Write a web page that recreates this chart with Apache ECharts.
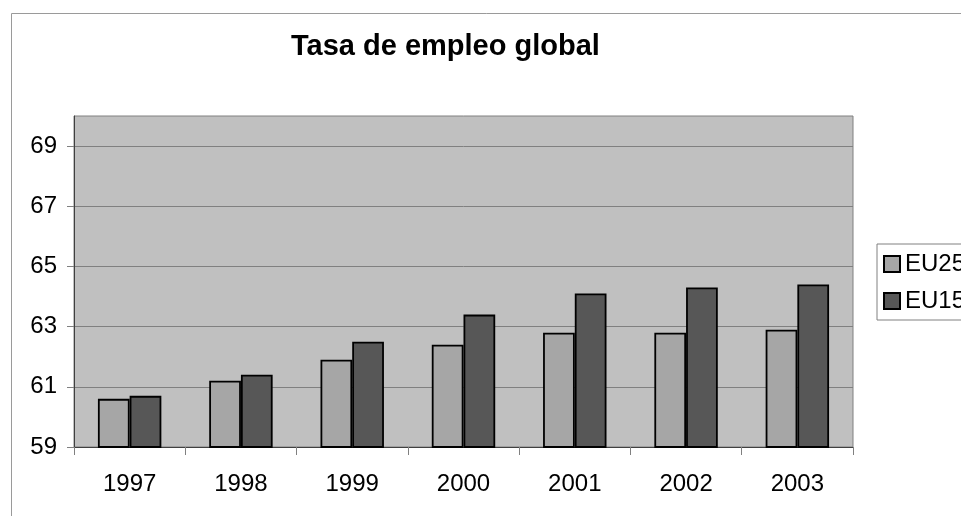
<!DOCTYPE html>
<html>
<head>
<meta charset="utf-8">
<script src="https://cdn.jsdelivr.net/npm/echarts@6/dist/echarts.min.js"></script>
<style>
html,body{margin:0;padding:0;background:#fff;}
#c{width:961px;height:516px;}
</style>
</head>
<body>
<div id="c"></div>
<script>
const titleText = 'Tasa de empleo global';
const categories = ['1997', '1998', '1999', '2000', '2001', '2002', '2003'];
const seriesNames = ['EU25', 'EU15'];
const eu25 = [60.6, 61.2, 61.9, 62.4, 62.8, 62.8, 62.9];
const eu15 = [60.7, 61.4, 62.5, 63.4, 64.1, 64.3, 64.4];
const yTicks = [59, 61, 63, 65, 67, 69];
const yMin = 59;
const yMax = 70;

const FONT = 'Liberation Sans, Arial, sans-serif';
const chart = echarts.init(document.getElementById('c'), null, {renderer: 'canvas'});
chart.setOption({
  backgroundColor: '#ffffff',
  animation: false,
  graphic: [{
    type: 'rect', left: 9, top: 11, z: -10,
    shape: {width: 1000, height: 600},
    style: {fill: 'none', stroke: '#9a9a9a', lineWidth: 1}
  }],
  title: {
    text: titleText, left: 291, top: 32, padding: 0,
    textStyle: {fontFamily: FONT, fontSize: 29, fontWeight: 'bold', color: '#000'}
  },
  legend: {
    orient: 'vertical', left: 877, top: 244,
    padding: [8, 6, 7, 6], itemGap: 13,
    itemWidth: 16, itemHeight: 16, icon: 'rect',
    borderColor: '#808080', borderWidth: 1, backgroundColor: '#fff',
    textStyle: {fontFamily: FONT, fontSize: 24, color: '#000'},
    data: seriesNames
  },
  grid: {
    left: 74, top: 116, right: 108, bottom: 69,
    show: true, backgroundColor: '#c0c0c0', borderColor: '#808080', borderWidth: 1
  },
  xAxis: {
    type: 'category', data: categories,
    axisLine: {lineStyle: {color: '#404040', width: 1}},
    axisTick: {show: true, length: 8, lineStyle: {color: '#808080'}},
    axisLabel: {fontFamily: FONT, fontSize: 24, color: '#000', margin: 25}
  },
  yAxis: {
    type: 'value', min: yMin, max: yMax,
    axisLine: {show: true, lineStyle: {color: '#404040', width: 1}},
    axisTick: {show: true, length: 7, lineStyle: {color: '#808080'}, customValues: yTicks},
    axisLabel: {fontFamily: FONT, fontSize: 24, color: '#000', margin: 17, customValues: yTicks},
    splitLine: {show: true, lineStyle: {color: '#808080', width: 1}}
  },
  series: [
    {
      name: seriesNames[0], type: 'bar', data: eu25,
      barGap: '0%', barCategoryGap: '43%',
      itemStyle: {color: '#a6a6a6', borderColor: '#000', borderWidth: 1.8}
    },
    {
      name: seriesNames[1], type: 'bar', data: eu15,
      barGap: '0%', barCategoryGap: '43%',
      itemStyle: {color: '#575757', borderColor: '#000', borderWidth: 1.8}
    }
  ]
});
</script>
</body>
</html>
